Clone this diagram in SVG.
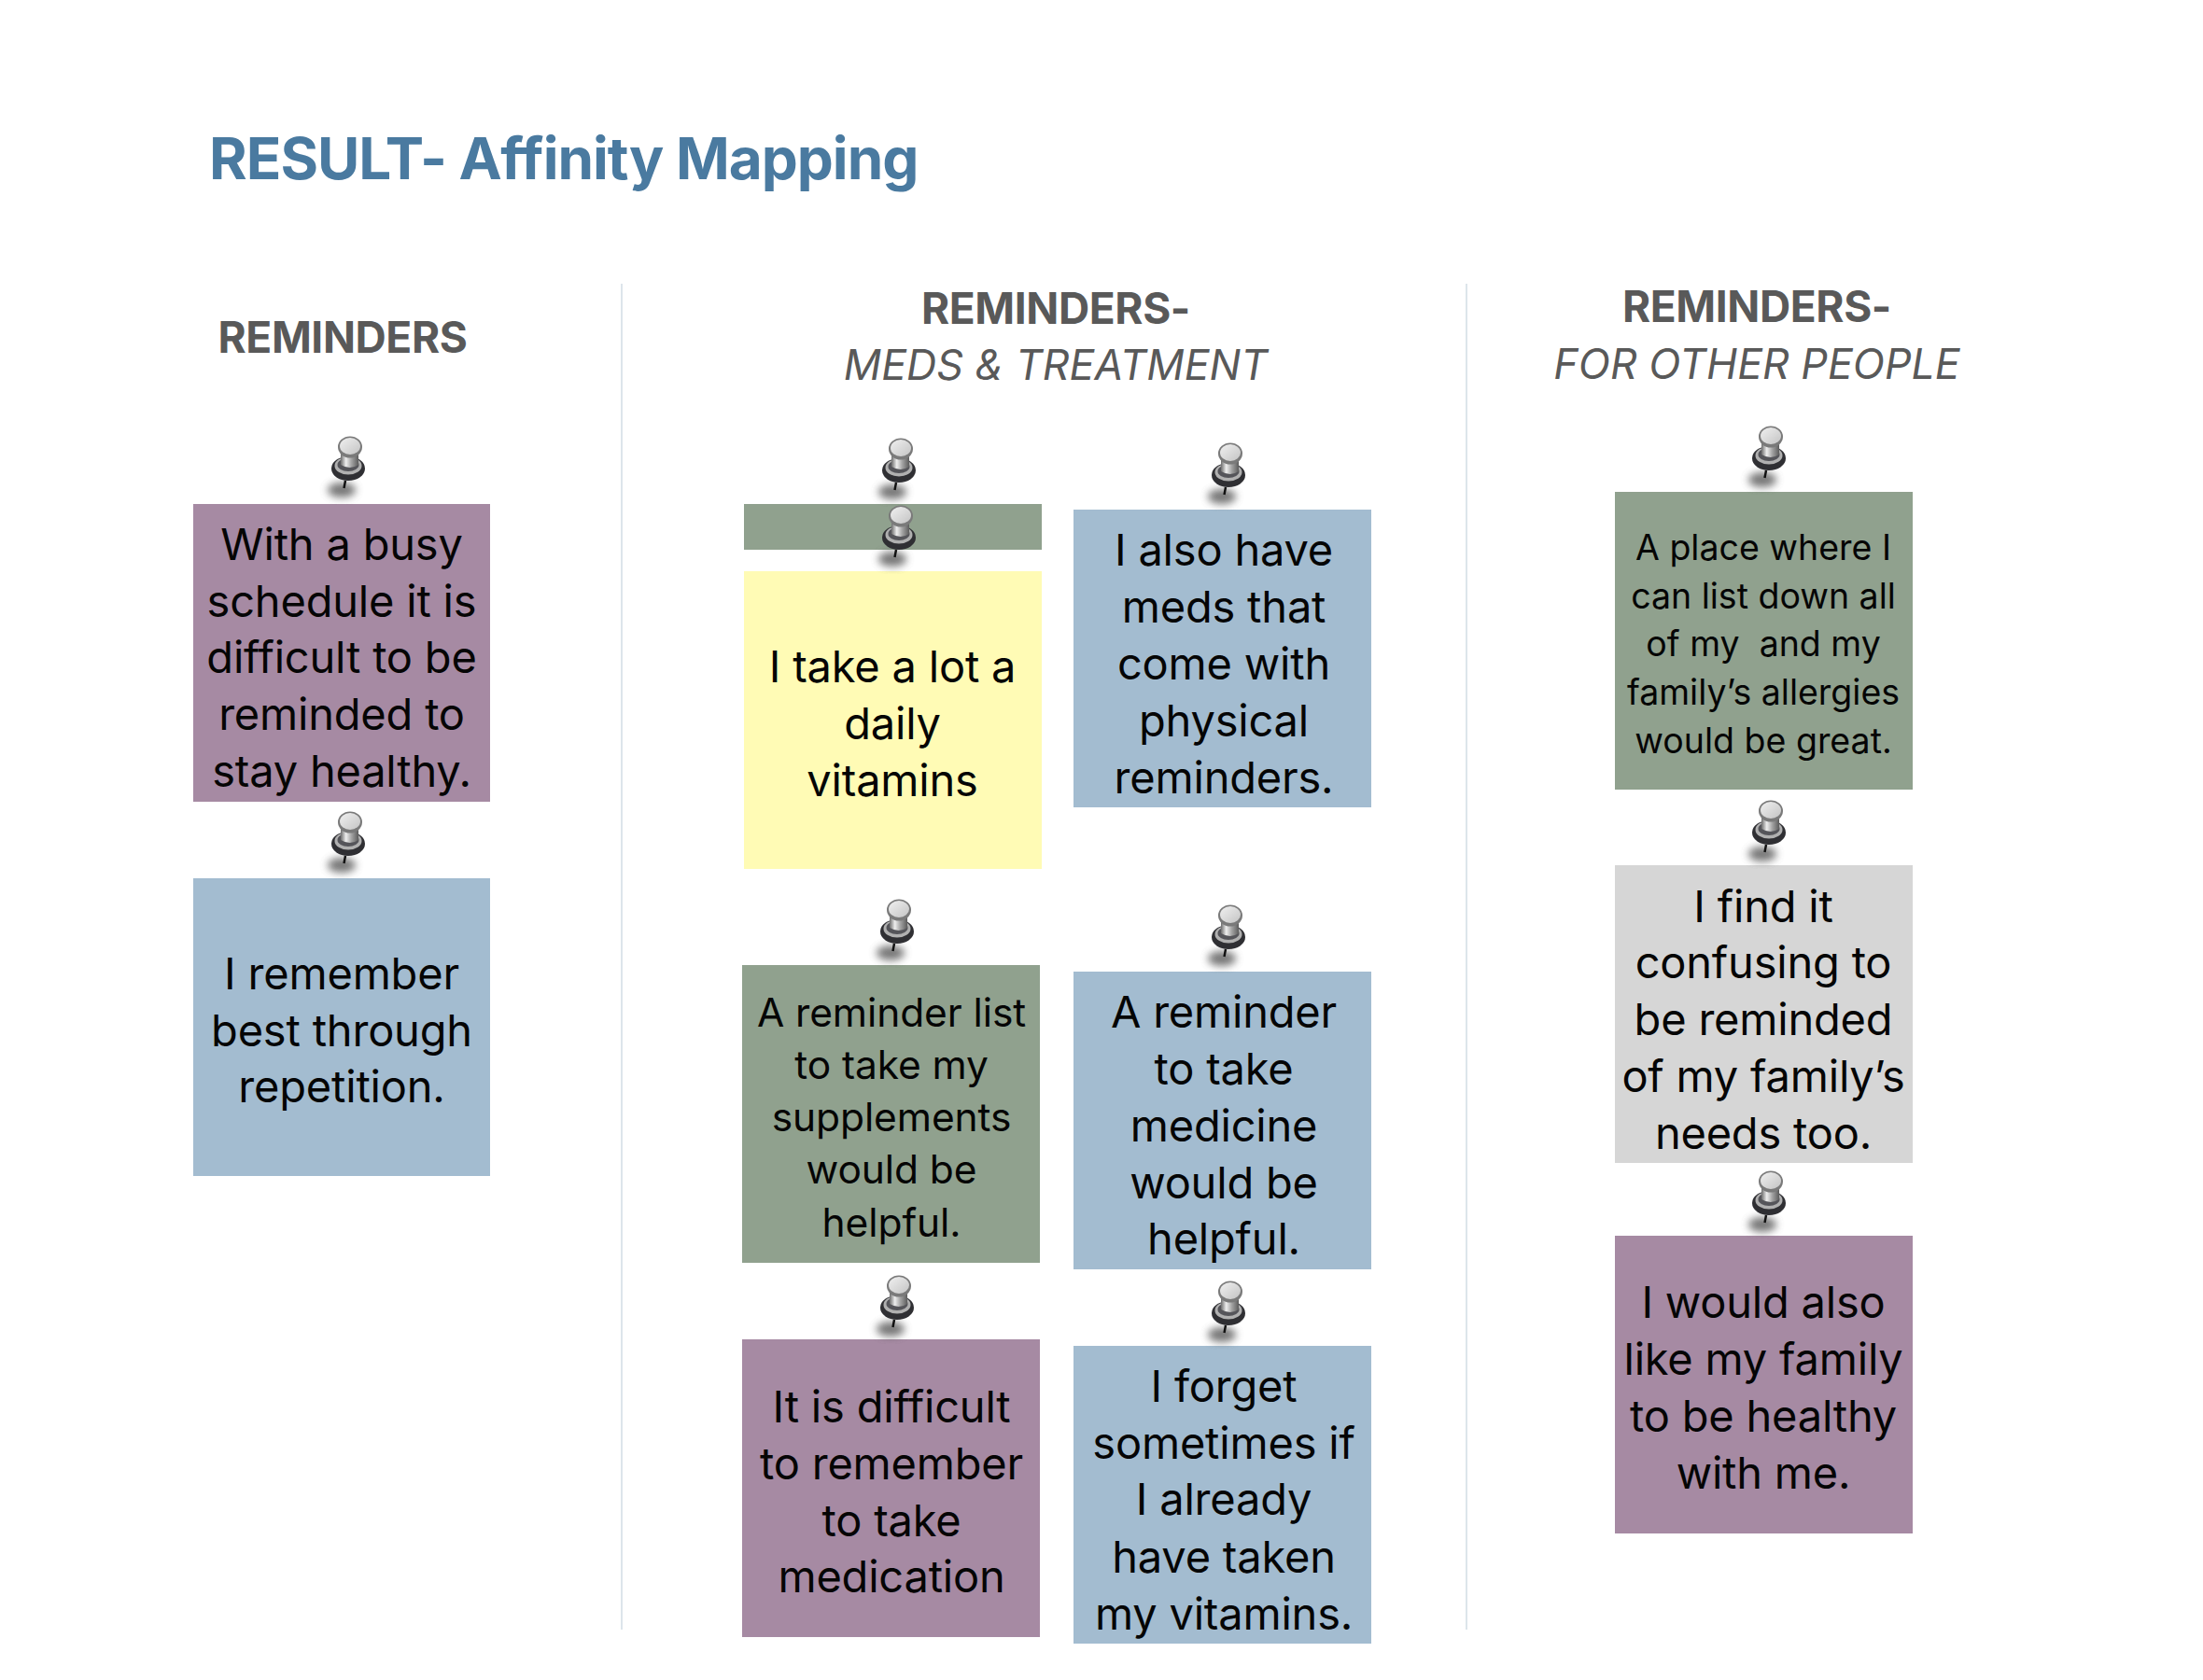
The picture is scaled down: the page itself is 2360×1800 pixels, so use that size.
<svg xmlns="http://www.w3.org/2000/svg" width="2360" height="1800" viewBox="0 0 2360 1800">
<style>
text{font-family:Inter,"Liberation Sans",sans-serif;text-anchor:middle;fill:#050505;white-space:pre}
.t{font-size:47px;letter-spacing:-.2px}
.m{font-size:42.500px;letter-spacing:-.1px}
.s{font-size:37.500px}
.h{font-size:46px;font-weight:700;letter-spacing:-.4px;fill:#595959}
.i{font-size:44.700px;font-style:italic;fill:#595959}
.title{font-size:62px;font-weight:700;fill:#4a7aa0;text-anchor:start;letter-spacing:-1px}
.div{stroke:#dde5eb;stroke-width:2}
.pu{fill:#a68aa3}.bl{fill:#a3bcd0}.gr{fill:#90a18e}.ye{fill:#fffbb5}.ng{fill:#d6d6d6}
</style>
<defs>
<filter id="blur" x="-50%" y="-50%" width="200%" height="200%"><feGaussianBlur stdDeviation="4.500"/></filter>
<linearGradient id="body" x1="0" x2="1" y1="0" y2="0"><stop offset="0" stop-color="#6d6d6d"/><stop offset=".3" stop-color="#eeeeee"/><stop offset=".6" stop-color="#a5a5a5"/><stop offset="1" stop-color="#5c5c5c"/></linearGradient>
<linearGradient id="head" x1="0" x2="1" y1="0" y2="1"><stop offset="0" stop-color="#f0f0f0"/><stop offset="1" stop-color="#c4c4c4"/></linearGradient>
<g id="pin">
<ellipse cx="-9" cy="46" rx="15" ry="8" fill="#555" opacity=".8" filter="url(#blur)"/>
<path d="M-5 36L-6.500 44" stroke="#111" stroke-width="2.500" fill="none"/>
<ellipse cx="-2" cy="23" rx="18" ry="13" fill="#2f2f33"/>
<ellipse cx="-2" cy="20" rx="14.500" ry="9.500" fill="#b0b0b0"/>
<ellipse cx="-2" cy="19" rx="11.500" ry="7" fill="#55555a"/>
<path d="M-10 3H9V19Q0 25 -10 19Z" fill="url(#body)"/>
<ellipse cx="0" cy="0" rx="13" ry="11.500" fill="#7a7a7a"/>
<ellipse cx="0" cy="-1" rx="11" ry="9" fill="url(#head)"/>
</g>
</defs>
<rect width="2360" height="1800" fill="#fff"/>
<text id="title" class="title" x="224" y="192">RESULT- Affinity Mapping</text>
<g id="dividers"><line class="div" x1="666" y1="304" x2="666" y2="1746"/><line class="div" x1="1571" y1="304" x2="1571" y2="1746"/></g>
<g id="headers">
<text class="h" x="367" y="378">REMINDERS</text>
<text class="h" x="1131" y="347">REMINDERS-</text>
<text class="i" x="1131" y="407">MEDS &amp; TREATMENT</text>
<text class="h" x="1882" y="345">REMINDERS-</text>
<text class="i" x="1882" y="406">FOR OTHER PEOPLE</text>
</g>
<g id="card-busy"><rect class="pu" x="207" y="540" width="318" height="319"/><text class="t"><tspan x="366" y="600">With a busy</tspan><tspan x="366" y="661">schedule it is</tspan><tspan x="366" y="721">difficult to be</tspan><tspan x="366" y="782">reminded to</tspan><tspan x="366" y="843">stay healthy.</tspan></text></g>
<g id="card-repetition"><rect class="bl" x="207" y="941" width="318" height="319"/><text class="t"><tspan x="366" y="1060">I remember</tspan><tspan x="366" y="1121">best through</tspan><tspan x="366" y="1181">repetition.</tspan></text></g>
<g id="card-empty-green"><rect class="gr" x="797" y="540" width="319" height="49"/></g>
<g id="card-vitamins"><rect class="ye" x="797" y="612" width="319" height="319"/><text class="t"><tspan x="956" y="731">I take a lot a</tspan><tspan x="956" y="792">daily</tspan><tspan x="956" y="853">vitamins</tspan></text></g>
<g id="card-physical"><rect class="bl" x="1150" y="546" width="319" height="319"/><text class="t"><tspan x="1311" y="606">I also have</tspan><tspan x="1311" y="667">meds that</tspan><tspan x="1311" y="728">come with</tspan><tspan x="1311" y="789">physical</tspan><tspan x="1311" y="850">reminders.</tspan></text></g>
<g id="card-supplements"><rect class="gr" x="795" y="1034" width="319" height="319"/><text class="m"><tspan x="955" y="1100">A reminder list</tspan><tspan x="955" y="1156">to take my</tspan><tspan x="955" y="1212">supplements</tspan><tspan x="955" y="1268">would be</tspan><tspan x="955" y="1325">helpful.</tspan></text></g>
<g id="card-medicine"><rect class="bl" x="1150" y="1041" width="319" height="319"/><text class="t"><tspan x="1311" y="1101">A reminder</tspan><tspan x="1311" y="1162">to take</tspan><tspan x="1311" y="1223">medicine</tspan><tspan x="1311" y="1284">would be</tspan><tspan x="1311" y="1344">helpful.</tspan></text></g>
<g id="card-medication"><rect class="pu" x="795" y="1435" width="319" height="319"/><text class="t"><tspan x="955" y="1524">It is difficult</tspan><tspan x="955" y="1585">to remember</tspan><tspan x="955" y="1646">to take</tspan><tspan x="955" y="1706">medication</tspan></text></g>
<g id="card-forget"><rect class="bl" x="1150" y="1442" width="319" height="319"/><text class="t"><tspan x="1311" y="1502">I forget</tspan><tspan x="1311" y="1563">sometimes if</tspan><tspan x="1311" y="1623">I already</tspan><tspan x="1311" y="1685">have taken</tspan><tspan x="1311" y="1746">my vitamins.</tspan></text></g>
<g id="card-allergies"><rect class="gr" x="1730" y="527" width="319" height="319"/><text class="s"><tspan x="1889" y="600">A place where I</tspan><tspan x="1889" y="652">can list down all</tspan><tspan x="1889" y="703">of my  and my</tspan><tspan x="1889" y="755">family’s allergies</tspan><tspan x="1889" y="807">would be great.</tspan></text></g>
<g id="card-confusing"><rect class="ng" x="1730" y="927" width="319" height="319"/><text class="t"><tspan x="1889" y="988">I find it</tspan><tspan x="1889" y="1048">confusing to</tspan><tspan x="1889" y="1109">be reminded</tspan><tspan x="1889" y="1170">of my family’s</tspan><tspan x="1889" y="1231">needs too.</tspan></text></g>
<g id="card-family"><rect class="pu" x="1730" y="1324" width="319" height="319"/><text class="t"><tspan x="1889" y="1412">I would also</tspan><tspan x="1889" y="1473">like my family</tspan><tspan x="1889" y="1534">to be healthy</tspan><tspan x="1889" y="1595">with me.</tspan></text></g>
<g id="pins">
<use href="#pin" x="375" y="479"/><use href="#pin" x="375" y="881"/>
<use href="#pin" x="965" y="481"/><use href="#pin" x="965" y="553"/>
<use href="#pin" x="1318" y="486"/><use href="#pin" x="963" y="975"/>
<use href="#pin" x="1318" y="981"/><use href="#pin" x="963" y="1378"/>
<use href="#pin" x="1318" y="1384"/><use href="#pin" x="1897" y="468"/>
<use href="#pin" x="1897" y="869"/><use href="#pin" x="1897" y="1266"/>
</g>
</svg>
